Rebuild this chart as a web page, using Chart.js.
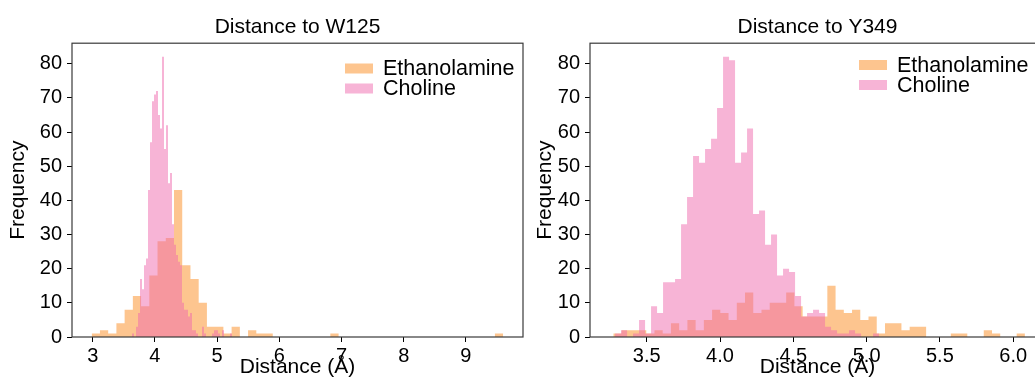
<!DOCTYPE html>
<html>
<head>
<meta charset="utf-8">
<script src="https://cdn.jsdelivr.net/npm/chart.js@4/dist/chart.umd.min.js"></script>
<style>
  html, body { margin: 0; padding: 0; background: #fff; overflow: hidden; }
  #wrap { position: relative; width: 1035px; height: 378px; overflow: hidden; }
  .panel { position: absolute; top: 0; width: 540px; height: 378px; }
</style>
</head>
<body>
<div id="wrap">
  <div class="panel" style="left:0"><canvas id="w125" width="540" height="378"></canvas></div>
  <div class="panel" style="left:518px"><canvas id="y349" width="540" height="378"></canvas></div>
</div>
<script>
/* histogram bins: first edge, bin width, counts per bin */
const seriesNames = ['Ethanolamine', 'Choline'];

// Distance to W125
const w125EthStart = 2.984, w125EthWidth = 0.1323;
const w125EthCounts = [1, 2, 1, 4, 8, 12, 9, 18, 28, 29, 43, 21, 17, 10, 3, 3, 1, 3, 0, 2,
  1, 1, 0, 0, 0, 0, 0, 0, 0, 1, 0, 0, 0, 0, 0, 0, 0, 0, 0, 0,
  0, 0, 0, 0, 0, 0, 0, 0, 0, 1];
const w125ChoStart = 3.632, w125ChoWidth = 0.03215;
const w125ChoCounts = [1, 0, 3, 7, 17, 14, 21, 23, 43, 57, 69, 71, 72, 65, 61, 82, 55, 62, 45, 48,
  33, 27, 24, 22, 21, 10, 8, 8, 6, 7, 2, 2, 1, 0, 0, 3, 1, 0, 0, 0,
  1, 2, 2, 1, 0, 2, 0, 0, 0, 1];

// Distance to Y349
const y349EthStart = 3.272, y349EthWidth = 0.05616;
const y349EthCounts = [1, 2, 2, 2, 1, 2, 1, 4, 2, 5, 2, 5, 8, 7, 5, 10, 13, 7, 8, 10,
  10, 13, 9, 6, 6, 6, 15, 8, 7, 8, 5, 6, 1, 4, 4, 2, 3, 3, 0, 0,
  0, 1, 1, 0, 0, 2, 1, 0, 0, 1];
const y349ChoStart = 3.284, y349ChoWidth = 0.04093;
const y349ChoCounts = [1, 2, 0, 1, 5, 1, 9, 7, 16, 16, 17, 33, 41, 53, 51, 55, 58, 67, 82, 81,
  51, 54, 61, 36, 37, 27, 30, 18, 20, 19, 12, 6, 7, 8, 7, 3, 2, 1, 1, 2,
  1, 0, 0, 1];

const w125Ticks = [3, 4, 5, 6, 7, 8, 9];
const y349Ticks = [3.5, 4.0, 4.5, 5.0, 5.5, 6.0];
const freqTicks = [0, 10, 20, 30, 40, 50, 60, 70, 80];

const colorOrange = 'rgba(251, 139, 31, 0.5)';
const colorPink = 'rgba(239, 105, 173, 0.5)';
const fontFamily = '"Liberation Sans", Arial, sans-serif';
const tickFont = { family: fontFamily, size: 20 };
const labelFont = { family: fontFamily, size: 21, lineHeight: 1 };

// step outline of a histogram, drawn by the line element through the scales
function steps(start, width, counts) {
  const pts = counts.map((c, i) => ({ x: start + i * width, y: c }));
  pts.push({ x: start + counts.length * width, y: counts[counts.length - 1] });
  return pts;
}

function hist(label, pts, color, order) {
  return {
    label, data: pts, order,
    stepped: true, fill: 'origin',
    backgroundColor: color, borderColor: 'transparent', borderWidth: 0,
    pointRadius: 0, pointHoverRadius: 0,
  };
}

const frame = {
  id: 'frame',
  afterDatasetsDraw(chart) {
    const { ctx, chartArea: a } = chart;
    ctx.save();
    ctx.strokeStyle = '#3a3a3a';
    ctx.lineWidth = 1.2;
    ctx.strokeRect(a.left, a.top, a.right - a.left, a.bottom - a.top);
    ctx.restore();
  },
};

const boxLegend = {
  id: 'boxLegend',
  afterDraw(chart, args, opts) {
    const ctx = chart.ctx;
    ctx.save();
    ctx.font = '21.5px ' + fontFamily;
    ctx.textBaseline = 'middle';
    chart.data.datasets.forEach((ds, i) => {
      const y = opts.y + i * 20;
      ctx.fillStyle = ds.backgroundColor;
      ctx.fillRect(opts.x, y - 5, 28, 10);
      ctx.fillStyle = '#000';
      ctx.fillText(ds.label, opts.x + 38, y + 1);
    });
    ctx.restore();
  },
};

function makeChart(id, title, datasets, xMin, xMax, xTicks, digits, pad) {
  return new Chart(document.getElementById(id), {
    type: 'line',
    data: { datasets },
    plugins: [frame, boxLegend],
    options: {
      responsive: false,
      animation: false,
      layout: { padding: { left: 0, right: pad.right, top: 0, bottom: 0 } },
      plugins: {
        legend: { display: false },
        tooltip: { enabled: false },
        title: {
          display: true, text: title, color: '#000', fullSize: false,
          font: { family: fontFamily, size: 21, weight: 'normal', lineHeight: 1.2 },
          padding: { top: 15, bottom: 3 },
        },
        boxLegend: { x: pad.legendX, y: pad.legendY },
      },
      scales: {
        x: {
          type: 'linear', min: xMin, max: xMax,
          afterBuildTicks: s => { s.ticks = xTicks.map(v => ({ value: v })); },
          afterFit: s => { s.height = 41; },
          ticks: { font: tickFont, color: '#000', padding: 2, autoSkip: false, maxRotation: 0,
            callback: v => Number(v).toFixed(digits) },
          grid: { drawOnChartArea: false, tickLength: 5, color: '#000' },
          border: { display: false },
          title: { display: true, text: 'Distance (Å)', color: '#000', font: labelFont, padding: 0 },
        },
        y: {
          min: 0, max: 86,
          afterBuildTicks: s => { s.ticks = freqTicks.map(v => ({ value: v })); },
          afterFit: s => { s.width = 72; },
          ticks: { font: tickFont, color: '#000', padding: 5, autoSkip: false },
          grid: { drawOnChartArea: false, tickLength: 5, color: '#000' },
          border: { display: false },
          title: { display: true, text: 'Frequency', color: '#000', font: labelFont,
            padding: { top: pad.yTitle, bottom: 0 } },
        },
      },
    },
  });
}

makeChart('w125', 'Distance to W125', [
  hist(seriesNames[0], steps(w125EthStart, w125EthWidth, w125EthCounts), colorOrange, 1),
  hist(seriesNames[1], steps(w125ChoStart, w125ChoWidth, w125ChoCounts), colorPink, 0),
], 2.667, 9.918, w125Ticks, 0, { right: 17, yTitle: 7.5, legendX: 345, legendY: 68.5 });

makeChart('y349', 'Distance to Y349', [
  hist(seriesNames[0], steps(y349EthStart, y349EthWidth, y349EthCounts), colorOrange, 1),
  hist(seriesNames[1], steps(y349ChoStart, y349ChoWidth, y349ChoCounts), colorPink, 0),
], 3.113, 6.217, y349Ticks, 1, { right: 13, yTitle: 16.5, legendX: 341, legendY: 65 });
</script>
</body>
</html>
